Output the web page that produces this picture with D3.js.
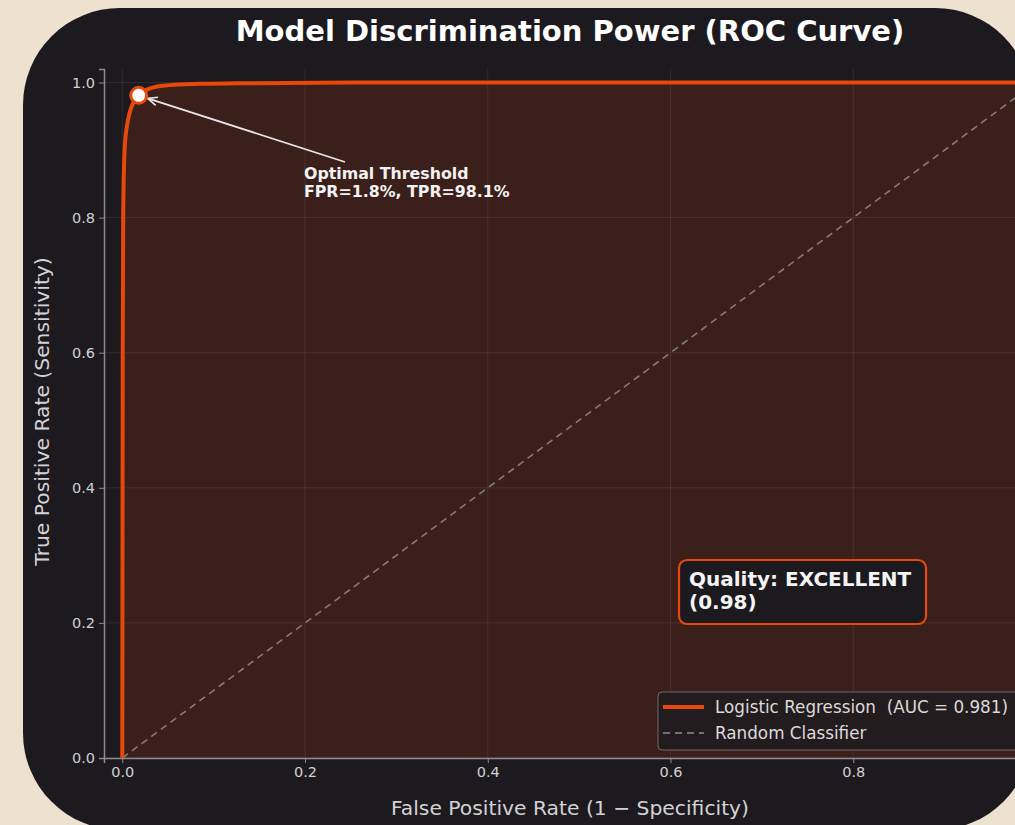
<!DOCTYPE html>
<html>
<head>
<meta charset="utf-8">
<script src="https://cdn.jsdelivr.net/npm/d3@7"></script>
<style>
  body { margin: 0; background: #efe1d0; }
  svg { display: block; font-family: "DejaVu Sans", sans-serif; }
</style>
</head>
<body>
<div id="wrapper"></div>
<script>
// ROC curve points
const fpr = [0, 0.0005, 0.001, 0.002, 0.003, 0.005, 0.008, 0.012, 0.018, 0.025, 0.038, 0.06, 0.085, 0.14, 0.25, 0.5, 1.0]
const tpr = [0, 0.6, 0.8, 0.88, 0.91, 0.935, 0.955, 0.97, 0.981, 0.988, 0.994, 0.997, 0.998, 0.999, 1.0, 1.0, 1.0]
const diagonal = [0, 1]
const optimal = { fpr: 0.018, tpr: 0.981 }
const tickValues = [0, 0.2, 0.4, 0.6, 0.8, 1.0]
const legendLabels = ['Logistic Regression  (AUC = 0.981)', 'Random Classifier']

function drawRoc() {
    const dimensions = {
        width: 1015,
        height: 825,
        margin: { top: 69, right: -21, bottom: 67, left: 104 }
    }
    dimensions.boundedWidth = dimensions.width - dimensions.margin.left - dimensions.margin.right
    dimensions.boundedHeight = dimensions.height - dimensions.margin.top - dimensions.margin.bottom

    const orange = '#e8480c'
    const svg = d3.select('#wrapper').append('svg')
        .attr('width', dimensions.width)
        .attr('height', dimensions.height)

    // dark rounded panel
    svg.append('rect')
        .attr('x', 23).attr('y', 8)
        .attr('width', 1009).attr('height', 822)
        .attr('rx', 97)
        .attr('fill', '#1d1a1f')

    svg.append('text')
        .attr('x', 570).attr('y', 41)
        .attr('text-anchor', 'middle')
        .attr('fill', '#ffffff')
        .attr('font-size', 29)
        .attr('font-weight', 'bold')
        .text('Model Discrimination Power (ROC Curve)')

    const bounds = svg.append('g')
        .attr('transform', `translate(${dimensions.margin.left}, ${dimensions.margin.top})`)

    const xScale = d3.scaleLinear()
        .domain([-0.02, 1.0])
        .range([0, dimensions.boundedWidth])
    const yScale = d3.scaleLinear()
        .domain([0, 1.02])
        .range([dimensions.boundedHeight, 0])

    const rocData = fpr.map((f, i) => ({ x: f, y: tpr[i] }))

    // area under curve
    const area = d3.area()
        .x(d => xScale(d.x))
        .y0(yScale(0))
        .y1(d => yScale(d.y))
        .curve(d3.curveMonotoneX)
    bounds.append('path')
        .datum(rocData)
        .attr('d', area)
        .attr('fill', '#3b1f1b')

    // grid
    const grid = bounds.append('g')
    grid.selectAll('.vg').data(tickValues).enter().append('line')
        .attr('x1', d => xScale(d)).attr('x2', d => xScale(d))
        .attr('y1', 0).attr('y2', dimensions.boundedHeight)
        .attr('stroke', '#ffffff').attr('stroke-opacity', 0.08).attr('stroke-width', 1)
    grid.selectAll('.hg').data(tickValues).enter().append('line')
        .attr('y1', d => yScale(d)).attr('y2', d => yScale(d))
        .attr('x1', 0).attr('x2', dimensions.boundedWidth)
        .attr('stroke', '#ffffff').attr('stroke-opacity', 0.08).attr('stroke-width', 1)

    // random classifier
    bounds.append('line')
        .attr('x1', xScale(diagonal[0])).attr('y1', yScale(diagonal[0]))
        .attr('x2', xScale(diagonal[1])).attr('y2', yScale(diagonal[1]))
        .attr('stroke', '#8e8c8c')
        .attr('stroke-opacity', 0.85)
        .attr('stroke-width', 1.6)
        .attr('stroke-dasharray', '7,5')

    // ROC line
    const line = d3.line()
        .x(d => xScale(d.x))
        .y(d => yScale(d.y))
        .curve(d3.curveMonotoneX)
    bounds.append('path')
        .datum(rocData)
        .attr('d', line)
        .attr('fill', 'none')
        .attr('stroke', orange)
        .attr('stroke-width', 4)
        .attr('stroke-linejoin', 'round')

    // axes
    const xAxis = d3.axisBottom(xScale).tickValues(tickValues).tickFormat(d3.format('.1f')).tickSize(5).tickPadding(4)
    const yAxis = d3.axisLeft(yScale).tickValues(tickValues).tickFormat(d3.format('.1f')).tickSize(5).tickPadding(4)
    const gx = bounds.append('g')
        .attr('transform', `translate(0, ${dimensions.boundedHeight})`)
        .call(xAxis)
    const gy = bounds.append('g').call(yAxis)
    ;[gx, gy].forEach(g => {
        g.select('.domain').attr('stroke', '#8c8a8e').attr('stroke-width', 1.5)
        g.selectAll('.tick line').attr('stroke', '#8c8a8e')
        g.selectAll('.tick text')
            .attr('fill', '#d2d0d2')
            .attr('font-size', 14.5)
            .attr('font-family', '"DejaVu Sans", sans-serif')
    })

    bounds.append('text')
        .attr('x', xScale(0.49)).attr('y', dimensions.boundedHeight + 57)
        .attr('text-anchor', 'middle')
        .attr('fill', '#d4d2d4').attr('font-size', 20.3)
        .text('False Positive Rate (1 \u2212 Specificity)')
    bounds.append('text')
        .attr('transform', `translate(${-55}, ${dimensions.boundedHeight / 2 - 2}) rotate(-90)`)
        .attr('text-anchor', 'middle')
        .attr('fill', '#d4d2d4').attr('font-size', 20.3)
        .text('True Positive Rate (Sensitivity)')

    // annotation
    const px = xScale(optimal.fpr), py = yScale(optimal.tpr)
    svg.append('defs').append('marker')
        .attr('id', 'arrow').attr('viewBox', '0 0 10 10')
        .attr('refX', 9).attr('refY', 5)
        .attr('markerWidth', 6).attr('markerHeight', 6)
        .attr('orient', 'auto')
        .append('path').attr('d', 'M0,1 L9,5 L0,9').attr('fill', 'none')
        .attr('stroke', '#e6e6e6').attr('stroke-width', 1.5)
    bounds.append('line')
        .attr('x1', 241).attr('y1', 93)
        .attr('x2', px + 9).attr('y2', py + 3)
        .attr('stroke', '#e6e6e6').attr('stroke-width', 1.8)
        .attr('marker-end', 'url(#arrow)')
    const ann = bounds.append('text')
        .attr('x', 200).attr('y', 110)
        .attr('fill', '#f2f2f2').attr('font-size', 15.8).attr('font-weight', 'bold')
    ann.append('tspan').attr('x', 200).attr('dy', 0).text('Optimal Threshold')
    ann.append('tspan').attr('x', 200).attr('dy', 17.5)
        .text(`FPR=${(optimal.fpr * 100).toFixed(1)}%, TPR=${(optimal.tpr * 100).toFixed(1)}%`)

    bounds.append('circle')
        .attr('cx', px).attr('cy', py).attr('r', 8)
        .attr('fill', '#ffffff')
        .attr('stroke', orange).attr('stroke-width', 3)

    // quality box
    bounds.append('rect')
        .attr('x', 575).attr('y', 491)
        .attr('width', 247).attr('height', 64)
        .attr('rx', 8)
        .attr('fill', '#1d1a1f')
        .attr('stroke', orange).attr('stroke-width', 2.2)
    const q = bounds.append('text')
        .attr('fill', '#f4f4f4').attr('font-size', 20).attr('font-weight', 'bold')
    q.append('tspan').attr('x', 585).attr('y', 517).text('Quality: EXCELLENT')
    q.append('tspan').attr('x', 585).attr('y', 540).text('(0.98)')

    // legend
    const legend = bounds.append('g').attr('transform', 'translate(554, 623)')
    legend.append('rect')
        .attr('width', 420).attr('height', 58).attr('rx', 4)
        .attr('fill', '#221c1e').attr('fill-opacity', 0.92)
        .attr('stroke', '#6e6a6c').attr('stroke-width', 1)
    legend.append('line')
        .attr('x1', 5).attr('x2', 46).attr('y1', 15).attr('y2', 15)
        .attr('stroke', orange).attr('stroke-width', 4)
    legend.append('line')
        .attr('x1', 5).attr('x2', 46).attr('y1', 41).attr('y2', 41)
        .attr('stroke', '#8e8c8c').attr('stroke-width', 1.6).attr('stroke-dasharray', '7,5')
    legend.selectAll('.lt').data(legendLabels).enter().append('text')
        .attr('x', 57).attr('y', (d, i) => 21 + i * 26)
        .attr('fill', '#dcdadb').attr('font-size', 16.8)
        .style('white-space', 'pre')
        .text(d => d)
}

drawRoc()
</script>
</body>
</html>
